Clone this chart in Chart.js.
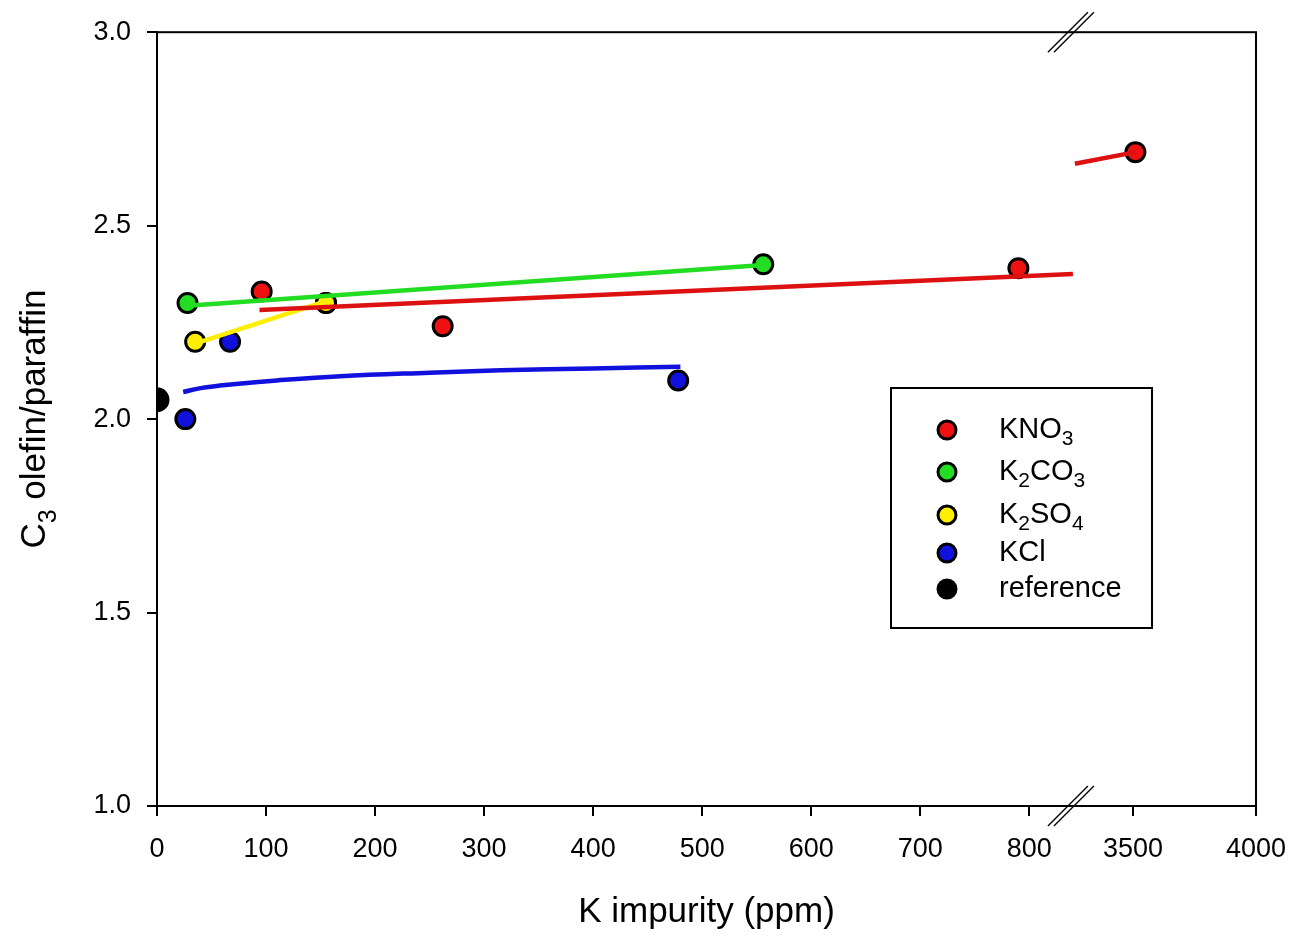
<!DOCTYPE html>
<html>
<head>
<meta charset="utf-8">
<script src="https://cdn.jsdelivr.net/npm/chart.js@4.4.1/dist/chart.umd.min.js"></script>
<style>
  body { margin: 0; background: #fff; }
  canvas { display: block; }
</style>
</head>
<body>
<canvas id="grafico" width="1296" height="937"></canvas>
<script>
// measured points
const kno3X = [96, 155, 262, 790, 3510];
const kno3Y = [2.33, 2.30, 2.24, 2.39, 2.69];
const k2co3X = [28, 556];
const k2co3Y = [2.30, 2.40];
const k2so4X = [35, 155];
const k2so4Y = [2.20, 2.30];
const kclX = [26, 67, 478];
const kclY = [2.00, 2.20, 2.10];
const refX = [0];
const refY = [2.05];

// fitted lines
const kno3FitX = [94, 840];
const kno3FitY = [2.282, 2.375];
const kno3FitX2 = [3264, 3510];
const kno3FitY2 = [2.66, 2.69];
const k2co3FitX = [28, 556];
const k2co3FitY = [2.293, 2.398];
const k2so4FitX = [35, 155];
const k2so4FitY = [2.195, 2.305];
const kclFitX = [24, 40, 70, 110, 168, 250, 315, 400, 480];
const kclFitY = [2.07, 2.08, 2.09, 2.10, 2.111, 2.12, 2.126, 2.131, 2.135];

const xTickValues = [0, 100, 200, 300, 400, 500, 600, 700, 800, 3500, 4000];
const xTickLabels = ['0', '100', '200', '300', '400', '500', '600', '700', '800', '3500', '4000'];

// axis break: 0..840 linear, then 3256..4000 compressed
const BREAK_LO = 840;
const BREAK_HI = 3256;
const UPPER_SCALE = 0.2257;

const FONTE = '"Liberation Sans", Arial, sans-serif';

function paraEixo(v) {
  if (v <= BREAK_LO) return v;
  return BREAK_LO + (v - BREAK_HI) * UPPER_SCALE;
}

function pontos(xs, ys) {
  return xs.map((x, i) => ({ x: paraEixo(x), y: ys[i] }));
}

const legendItems = [
  { label: 'KNO_3', color: '#ee1111' },
  { label: 'K_2CO_3', color: '#22dd22' },
  { label: 'K_2SO_4', color: '#ffee00' },
  { label: 'KCl', color: '#1111dd' },
  { label: 'reference', color: '#000000' }
];

function linha(xs, ys, cor, curva) {
  return {
    data: pontos(xs, ys),
    showLine: true,
    borderColor: cor,
    borderWidth: 4.5,
    pointRadius: 0,
    tension: curva ? 0.4 : 0,
    order: 0
  };
}

function marcadores(xs, ys, cor, raio) {
  return {
    data: pontos(xs, ys),
    showLine: false,
    backgroundColor: cor,
    borderColor: '#000',
    borderWidth: 3,
    pointRadius: raio || 9.5,
    order: 1
  };
}

// texto com subscritos tipo K_2CO_3
function textoSub(ctx, txt, x, y, size) {
  let cx = x;
  for (let i = 0; i < txt.length; i++) {
    const ch = txt[i];
    if (ch === '_' && i + 1 < txt.length) {
      ctx.font = Math.round(size * 0.72) + 'px ' + FONTE;
      ctx.fillText(txt[i + 1], cx, y + size * 0.32);
      cx += ctx.measureText(txt[i + 1]).width;
      i++;
    } else {
      ctx.font = size + 'px ' + FONTE;
      ctx.fillText(ch, cx, y);
      cx += ctx.measureText(ch).width;
    }
  }
}

function larguraSub(ctx, txt, size) {
  let w = 0;
  for (let i = 0; i < txt.length; i++) {
    if (txt[i] === '_' && i + 1 < txt.length) {
      ctx.font = Math.round(size * 0.72) + 'px ' + FONTE;
      w += ctx.measureText(txt[i + 1]).width;
      i++;
    } else {
      ctx.font = size + 'px ' + FONTE;
      w += ctx.measureText(txt[i]).width;
    }
  }
  return w;
}

const extras = {
  id: 'extras',
  afterDraw(chart) {
    const ctx = chart.ctx;
    const a = chart.chartArea;
    ctx.save();

    // moldura
    ctx.strokeStyle = '#000';
    ctx.lineWidth = 2;
    ctx.strokeRect(a.left, a.top, a.right - a.left, a.bottom - a.top);

    // marcas de quebra
    const bx = chart.scales.x.getPixelForValue(BREAK_LO) - 2;
    ctx.lineWidth = 1.3;
    [a.top, a.bottom].forEach(yy => {
      [-3, 3].forEach(off => {
        ctx.beginPath();
        ctx.moveTo(bx - 20 + off, yy + 20);
        ctx.lineTo(bx + 20 + off, yy - 20);
        ctx.stroke();
      });
    });

    // titulo do eixo y
    ctx.fillStyle = '#000';
    const tituloY = 'C_3 olefin/paraffin';
    const w = larguraSub(ctx, tituloY, 35);
    ctx.translate(45, (a.top + a.bottom) / 2);
    ctx.rotate(-Math.PI / 2);
    ctx.textBaseline = 'alphabetic';
    textoSub(ctx, tituloY, -w / 2, 0, 35);
    ctx.setTransform(1, 0, 0, 1, 0, 0);

    // legenda
    ctx.lineWidth = 2;
    ctx.strokeStyle = '#000';
    ctx.strokeRect(891, 388, 261, 240);
    const linhasY = [430, 472, 515, 553, 589];
    legendItems.forEach((it, i) => {
      const y = linhasY[i];
      ctx.beginPath();
      ctx.arc(947, y, 9, 0, Math.PI * 2);
      ctx.fillStyle = it.color;
      ctx.fill();
      ctx.strokeStyle = '#000';
      ctx.lineWidth = 3;
      ctx.stroke();
      ctx.fillStyle = '#000';
      ctx.textBaseline = 'middle';
      textoSub(ctx, it.label, 999, y, 29);
    });
    ctx.restore();
  }
};

const ctx = document.getElementById('grafico').getContext('2d');
new Chart(ctx, {
  type: 'scatter',
  data: {
    datasets: [
      linha(kno3FitX, kno3FitY, '#dd1111', false),
      linha(kno3FitX2, kno3FitY2, '#dd1111', false),
      linha(k2co3FitX, k2co3FitY, '#22dd22', false),
      linha(k2so4FitX, k2so4FitY, '#ffee00', false),
      linha(kclFitX, kclFitY, '#1111dd', true),
      marcadores(k2so4X, k2so4Y, '#ffee00'),
      marcadores(kno3X, kno3Y, '#ee1111'),
      marcadores(k2co3X, k2co3Y, '#22dd22'),
      marcadores(kclX, kclY, '#1111dd'),
      marcadores(refX, refY, '#000000', 11)
    ]
  },
  options: {
    responsive: false,
    animation: false,
    layout: { padding: { top: 32, right: 40, left: 0, bottom: 0 } },
    plugins: {
      legend: { display: false },
      tooltip: { enabled: false }
    },
    scales: {
      x: {
        type: 'linear',
        min: 0,
        max: paraEixo(4000),
        afterBuildTicks: (scale) => {
          scale.ticks = xTickValues.map(v => ({ value: paraEixo(v) }));
        },
        afterFit: (scale) => {
          scale.height = 131;
          scale.paddingLeft = 0;
          scale.paddingRight = 0;
        },
        border: { display: true, color: '#000', width: 2 },
        grid: { drawOnChartArea: false, drawTicks: true, tickLength: 10, color: '#000', lineWidth: 2 },
        ticks: {
          color: '#000',
          font: { size: 27, family: FONTE },
          padding: 17,
          maxRotation: 0,
          autoSkip: false,
          callback: (val, idx) => xTickLabels[idx]
        },
        title: {
          display: true,
          text: 'K impurity (ppm)',
          color: '#000',
          font: { size: 35, family: FONTE },
          padding: { top: 0, bottom: 4 }
        }
      },
      y: {
        min: 1.0,
        max: 3.0,
        afterFit: (scale) => { scale.width = 157; },
        border: { display: true, color: '#000', width: 2 },
        grid: { drawOnChartArea: false, drawTicks: true, tickLength: 10, color: '#000', lineWidth: 2 },
        ticks: {
          stepSize: 0.5,
          color: '#000',
          font: { size: 27, family: FONTE },
          padding: 16,
          callback: (v) => v.toFixed(1)
        }
      }
    }
  },
  plugins: [extras]
});
</script>
</body>
</html>
